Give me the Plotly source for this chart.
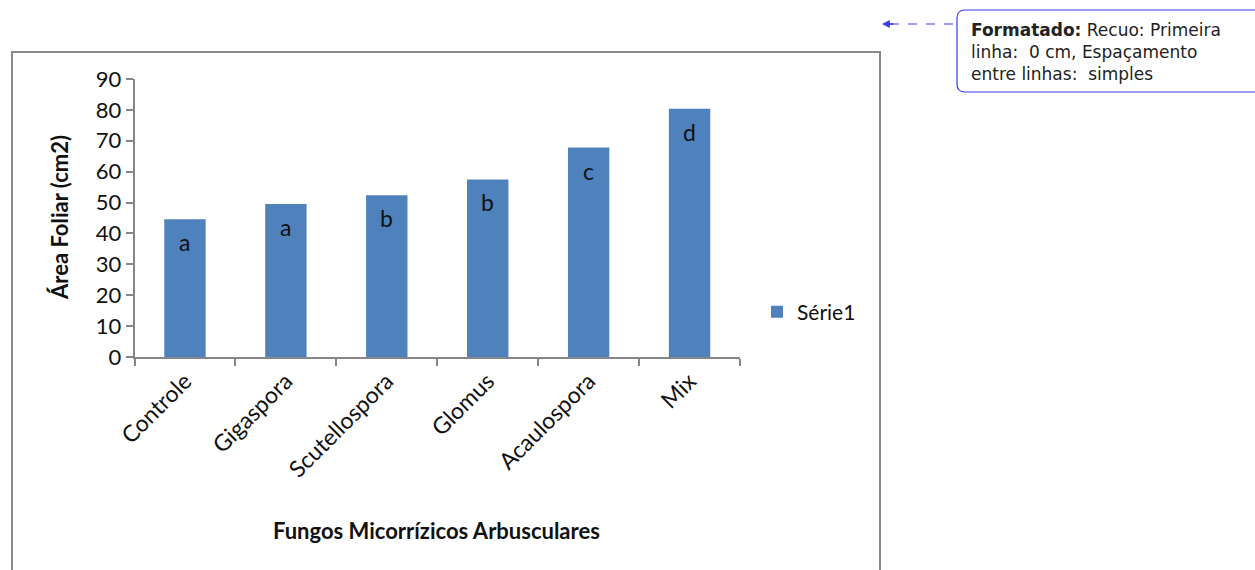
import plotly.graph_objects as go

# Leaf area per mycorrhizal treatment
categorias = ["Controle", "Gigaspora", "Scutellospora", "Glomus", "Acaulospora", "Mix"]
area_foliar = [44.6, 49.5, 52.4, 57.5, 67.8, 80.4]
letras = ["a", "a", "b", "b", "c", "d"]
yticks = [0, 10, 20, 30, 40, 50, 60, 70, 80, 90]

W, H = 1255, 570
AXIS = "#868686"
FONT = "Lato, 'Open Sans', sans-serif"
INK = "#111111"


def px(x):
    return x / W


def py(y):
    return (H - y) / H


fig = go.Figure()
fig.add_trace(go.Bar(
    x=categorias, y=area_foliar, name="Série1",
    marker=dict(color="#4F81BD", line=dict(width=0)),
))

# significance letters near the top of each bar
for cat, val, let in zip(categorias, area_foliar, letras):
    fig.add_annotation(x=cat, y=val, text=let, showarrow=False, yshift=-23,
                       xanchor="center", yanchor="middle",
                       font=dict(family=FONT, size=23, color=INK),
                       xref="x", yref="y")

# axis titles
fig.add_annotation(x=px(60), y=py(218), text="<b>Área Foliar (cm2)</b>", textangle=-90,
                   showarrow=False, xref="paper", yref="paper",
                   xanchor="center", yanchor="middle",
                   font=dict(family=FONT, size=22, color=INK))
fig.add_annotation(x=px(436), y=py(530), text="<b>Fungos Micorrízicos Arbusculares</b>",
                   showarrow=False, xref="paper", yref="paper",
                   xanchor="center", yanchor="middle",
                   font=dict(family=FONT, size=22, color=INK))

# chart frame
fig.add_shape(type="rect", xref="paper", yref="paper",
              x0=px(12), x1=px(880), y0=py(585), y1=py(52),
              line=dict(color="#8a8a8a", width=2), fillcolor="rgba(0,0,0,0)")

# comment balloon
fig.add_shape(type="path", xref="paper", yref="paper",
              path=(f"M {px(965)},{py(10)} L {px(1262)},{py(10)} L {px(1262)},{py(92)} "
                    f"L {px(965)},{py(92)} Q {px(957)},{py(92)} {px(957)},{py(84)} "
                    f"L {px(957)},{py(18)} Q {px(957)},{py(10)} {px(965)},{py(10)} Z"),
              line=dict(color="#3a3af0", width=1.2), fillcolor="white")
fig.add_shape(type="line", xref="paper", yref="paper",
              x0=px(890), x1=px(957), y0=py(24), y1=py(24),
              line=dict(color="#3a3af0", width=1.2, dash="dash"))
fig.add_annotation(x=px(882), y=py(24), ax=13, ay=0, axref="pixel", ayref="pixel",
                   xref="paper", yref="paper", text="", showarrow=True,
                   arrowhead=2, arrowsize=1.2, arrowwidth=1.3, arrowcolor="#3a3af0")
fig.add_annotation(x=px(969), y=py(52), xanchor="left", yanchor="middle", align="left",
                   text="<b>Formatado:</b> Recuo: Primeira<br>linha:  0 cm, Espaçamento<br>entre linhas:  simples",
                   showarrow=False, xref="paper", yref="paper",
                   font=dict(family="DejaVu Sans", size=17, color="#222222"))

fig.update_layout(
    width=W, height=H,
    margin=dict(l=0, r=0, t=0, b=0, autoexpand=False),
    paper_bgcolor="white", plot_bgcolor="white",
    bargap=0.59,
    showlegend=True,
    legend=dict(x=px(757), y=py(312), xanchor="left", yanchor="middle",
                font=dict(family=FONT, size=21, color=INK),
                itemwidth=30, bgcolor="rgba(0,0,0,0)"),
    xaxis=dict(
        domain=[px(134.5), px(740)],
        showline=True, linecolor=AXIS, linewidth=1.5,
        ticks="outside", tickson="boundaries", ticklen=7, tickcolor=AXIS, tickwidth=1.5,
        tickangle=-45, tickfont=dict(family=FONT, size=23, color=INK),
        showgrid=False, zeroline=False, fixedrange=True, automargin=False,
    ),
    yaxis=dict(
        domain=[py(357), py(79)], range=[0, 90],
        tickvals=yticks,
        showline=True, linecolor=AXIS, linewidth=1.5,
        ticks="outside", ticklen=7, tickcolor=AXIS, tickwidth=1.5,
        tickfont=dict(family=FONT, size=22, color=INK),
        showgrid=False, zeroline=False, fixedrange=True, automargin=False,
    ),
)

fig.write_html("out.html")
